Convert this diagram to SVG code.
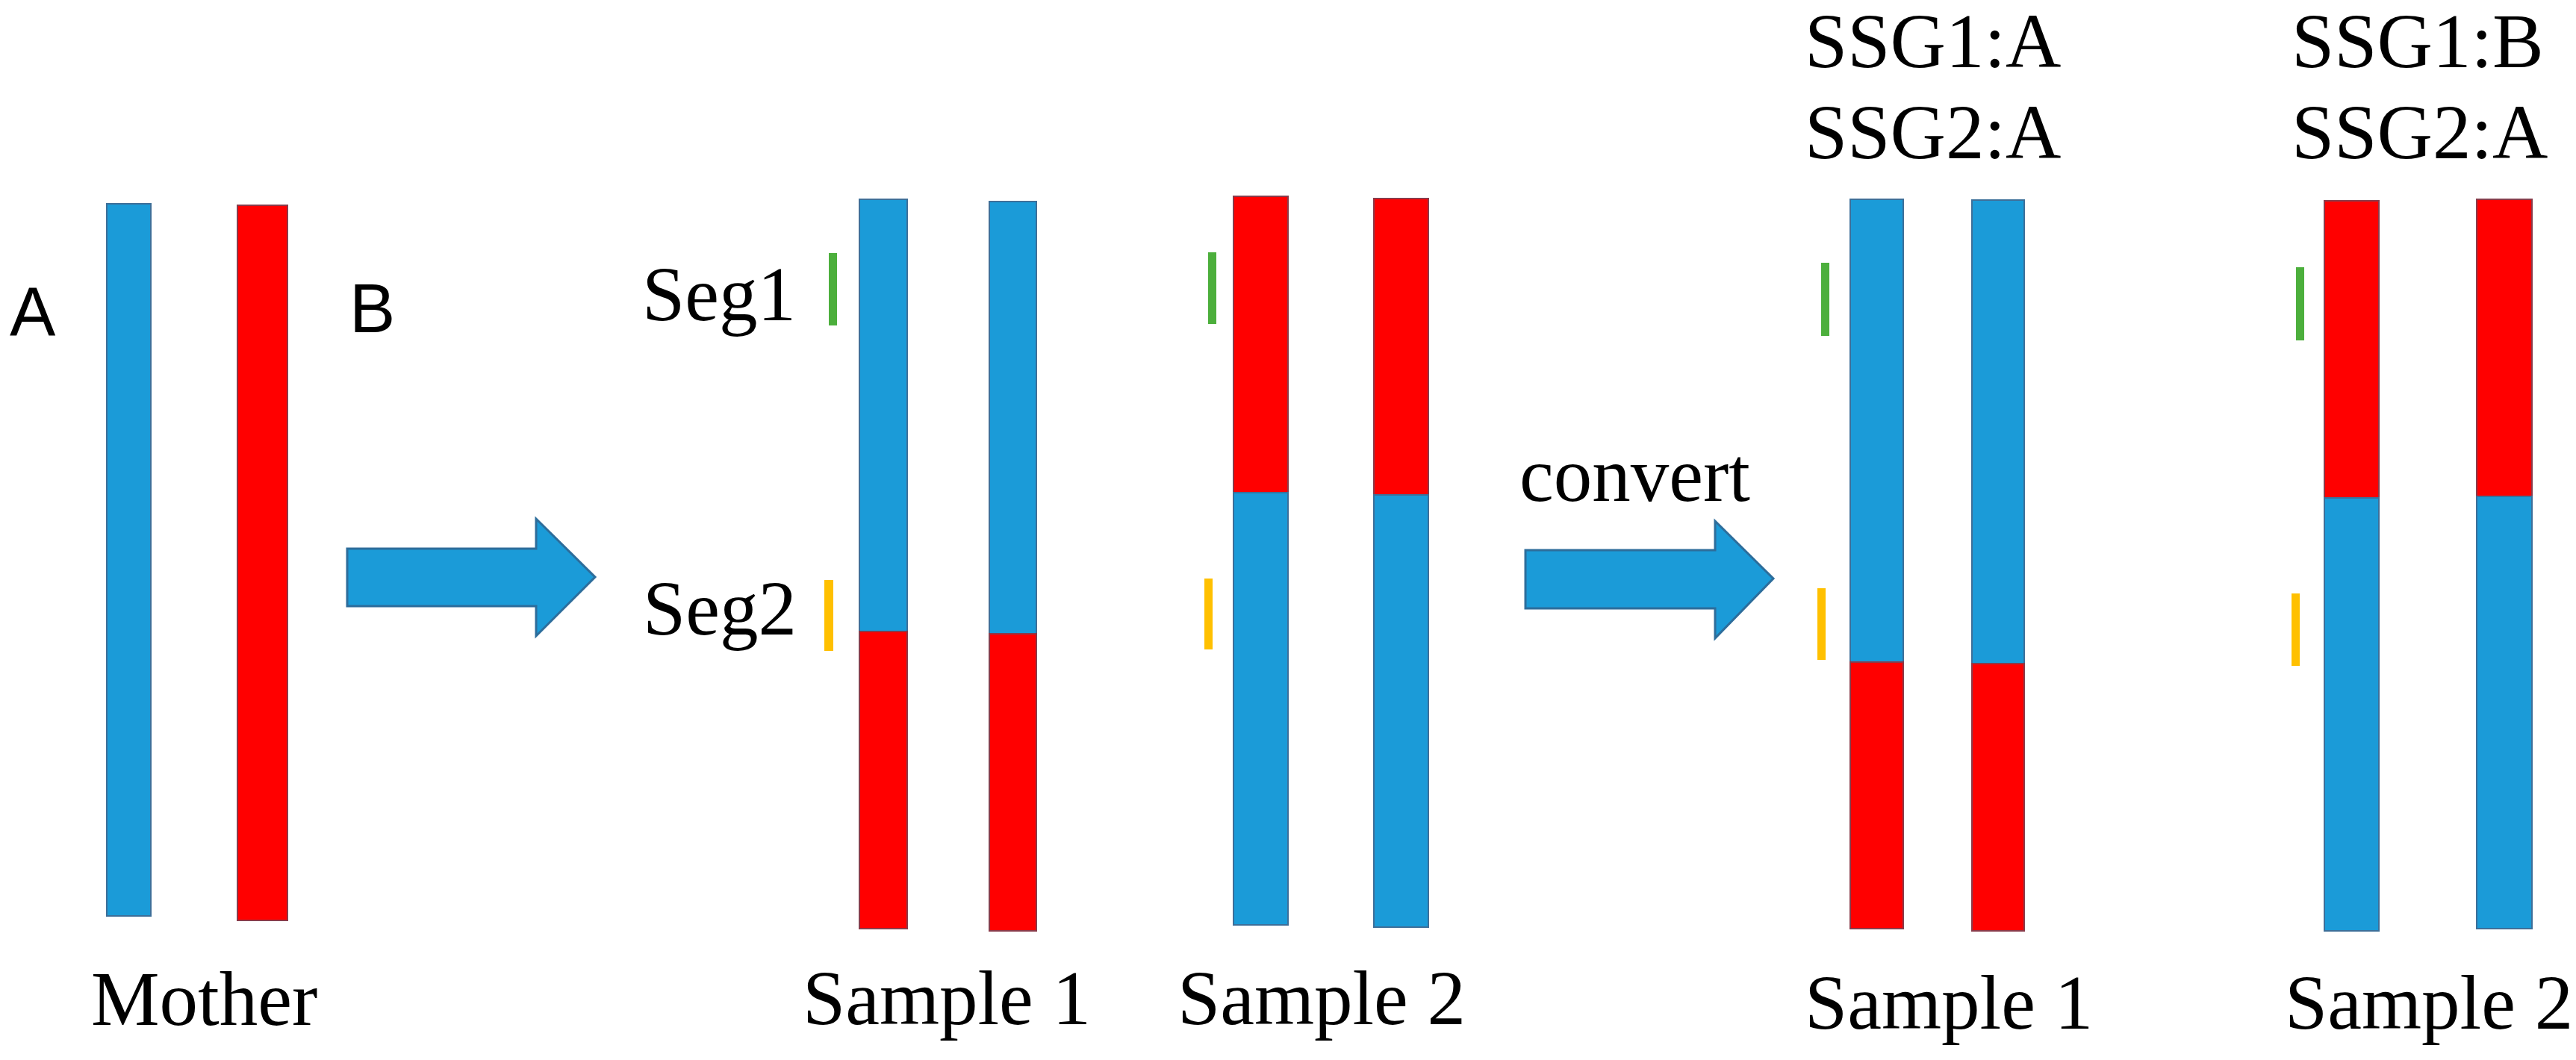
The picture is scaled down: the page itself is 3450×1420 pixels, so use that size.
<svg xmlns="http://www.w3.org/2000/svg" width="3450" height="1420" viewBox="0 0 3450 1420">
<style>
.blue{fill:#1b9bd8;stroke:#3d6f99;stroke-width:2}
.red{fill:#ff0000;stroke:#8a3b4a;stroke-width:2}
.green{fill:#4caf3c}
.yellow{fill:#ffc000}
.arrow{fill:#1b9bd8;stroke:#2d6d9b;stroke-width:3;stroke-linejoin:miter}
.t{font-family:"Liberation Serif","Times New Roman",serif;font-size:103px;fill:#000}
.s{font-family:"Liberation Sans",Arial,sans-serif;font-size:92px;fill:#000}
</style>
<rect width="3450" height="1420" fill="#fff"/>
<g id="mother">
<rect class="blue" x="143" y="273" width="59" height="954"/>
<rect class="red" x="318" y="275" width="67" height="958"/>
<text class="s" x="13" y="450">A</text>
<text class="s" x="468" y="445">B</text>
<text class="t" x="122" y="1373">Mother</text>
</g>
<g id="labels-seg">
<text class="t" x="1066" y="429" text-anchor="end">Seg1</text>
<text class="t" x="1067" y="850" text-anchor="end">Seg2</text>
</g>
<g id="sample1-before">
<rect class="green" x="1110" y="339" width="11" height="97"/>
<rect class="yellow" x="1104" y="777" width="12" height="95"/>
<rect class="blue" x="1151" y="267" width="64" height="579"/>
<rect class="red" x="1151" y="846" width="64" height="398"/>
<rect class="blue" x="1325" y="270" width="63" height="579"/>
<rect class="red" x="1325" y="849" width="63" height="398"/>
<text class="t" x="1268" y="1372" text-anchor="middle">Sample 1</text>
</g>
<g id="sample2-before">
<rect class="green" x="1618" y="338" width="11" height="96"/>
<rect class="yellow" x="1613" y="775" width="11" height="95"/>
<rect class="red" x="1652" y="263" width="73" height="397"/>
<rect class="blue" x="1652" y="660" width="73" height="579"/>
<rect class="red" x="1840" y="266" width="73" height="397"/>
<rect class="blue" x="1840" y="663" width="73" height="579"/>
<text class="t" x="1770" y="1372" text-anchor="middle">Sample 2</text>
</g>
<g id="sample1-after">
<text class="t" x="2417" y="90">SSG1:A</text>
<text class="t" x="2417" y="212">SSG2:A</text>
<rect class="green" x="2439" y="352" width="11" height="98"/>
<rect class="yellow" x="2434" y="788" width="11" height="96"/>
<rect class="blue" x="2478" y="267" width="71" height="620"/>
<rect class="red" x="2478" y="887" width="71" height="357"/>
<rect class="blue" x="2641" y="268" width="70" height="621"/>
<rect class="red" x="2641" y="889" width="70" height="358"/>
<text class="t" x="2417" y="1378">Sample 1</text>
</g>
<g id="sample2-after">
<text class="t" x="3069" y="90">SSG1:B</text>
<text class="t" x="3069" y="212">SSG2:A</text>
<rect class="green" x="3075" y="358" width="11" height="98"/>
<rect class="yellow" x="3069" y="795" width="11" height="97"/>
<rect class="red" x="3113" y="269" width="73" height="398"/>
<rect class="blue" x="3113" y="667" width="73" height="580"/>
<rect class="red" x="3317" y="267" width="74" height="398"/>
<rect class="blue" x="3317" y="665" width="74" height="579"/>
<text class="t" x="3060" y="1378">Sample 2</text>
</g>
<g id="connectors">
<polygon class="arrow" points="465,735 718,735 718,695 797,773 718,852 718,812 465,812"/>
<polygon class="arrow" points="2043,737 2297,737 2297,698 2375,775 2297,855 2297,815 2043,815"/>
<text class="t" x="2035" y="671">convert</text>
</g>
</svg>
